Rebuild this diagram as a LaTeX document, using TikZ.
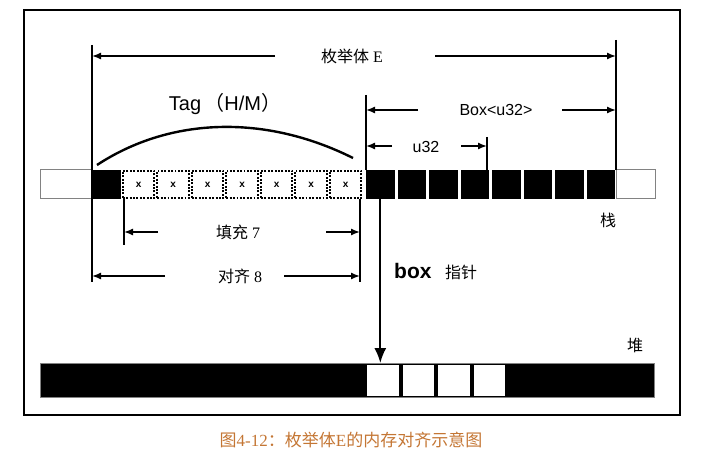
\documentclass[tikz,border=0pt]{standalone}
\usepackage{fontspec}
\setmainfont{Liberation Serif}
\setsansfont{Liberation Sans}
\newfontfamily\cjk{Noto Sans CJK SC}
\usetikzlibrary{arrows.meta}
\definecolor{capcol}{RGB}{196,118,52}
\definecolor{edgegray}{RGB}{130,130,130}
\begin{document}
\begin{tikzpicture}[x=1pt,y=-1pt,
  dimarrow/.style={line width=1.4pt,-{Latex[length=9pt,width=7pt]}},
  extline/.style={line width=1.3pt},
  ptrarrow/.style={line width=1.8pt,-{Latex[length=15pt,width=12pt]}},
  cell/.style={minimum height=29pt,inner sep=0pt,outer sep=0pt,anchor=west},
  whitecell/.style={cell,draw=edgegray,line width=1pt,fill=white},
  blackcell/.style={cell,fill=black,minimum width=28.6pt},
  padcell/.style={cell,draw=black,line width=2pt,dash pattern=on 1.9pt off 1.5pt,minimum width=31.5pt,minimum height=27.5pt,font=\sffamily\bfseries\fontsize{10}{10}\selectfont},
  heapcell/.style={inner sep=0pt,outer sep=0pt,anchor=north west,fill=white,minimum width=31.5pt,minimum height=31pt},
  txt/.style={inner sep=0pt,font=\fontsize{16}{16}\selectfont},
  sanstxt/.style={inner sep=0pt,font=\sffamily\fontsize{16}{16}\selectfont}
]
\useasboundingbox (0,0) rectangle (701,457);
\node[draw,line width=2.2pt,minimum width=656pt,minimum height=405pt,inner sep=0pt,anchor=north west] (frame) at (23,9) {};

% stack row
\node[whitecell,minimum width=52pt] (sl) at (40,184.5) {};
\node[blackcell,minimum width=29pt] (b0) at (92,184.5) {};
\foreach \i in {0,...,6}{
  \node[padcell] (p\i) at ({122.8+\i*34.5},184.5) {x};
}
\foreach \i in {1,...,8}{
  \node[blackcell] (b\i) at ({366+(\i-1)*31.55},184.5) {};
}
\node[whitecell,minimum width=39pt] (sr) at (616,184.5) {};

% heap row
\node[fill=black,draw=edgegray,line width=0.8pt,minimum width=614pt,minimum height=34pt,inner sep=0pt,outer sep=0pt,anchor=north west] (heap) at (40,363) {};
\foreach \i in {1,...,4}{
  \node[heapcell] (h\i) at ({367+(\i-1)*35.6},364.5) {};
}

% extension lines
\coordinate (LT) at (92,45);   \coordinate (LB) at (92,282);
\coordinate (RT) at (616,40);  \coordinate (RB) at (616,170);
\coordinate (BT) at (366,95);  \coordinate (BB) at (366,170);
\coordinate (UT) at (487,137); \coordinate (UB) at (487,170);
\coordinate (FT) at (124,199); \coordinate (FB) at (124,245);
\coordinate (AT) at (360,199); \coordinate (AB) at (360,282);
\draw[extline] (LT) -- (LB);
\draw[extline] (RT) -- (RB);
\draw[extline] (BT) -- (BB);
\draw[extline] (UT) -- (UB);
\draw[extline] (FT) -- (FB);
\draw[extline] (AT) -- (AB);

% labels
\node[txt] (lE) at (352,56) {{\cjk 枚举体}\ E};
\node[sanstxt] (lBox) at (496,110) {Box<u32>};
\node[sanstxt] (lu) at (426,147) {u32};
\node[txt] (lF) at (238,232) {{\cjk 填充}\ 7};
\node[txt] (lA) at (240,276) {{\cjk 对齐}\ 8};
\node[inner sep=0pt,font=\sffamily\fontsize{20}{20}\selectfont] (lTag) at (225,104) {Tag\,{\cjk （}H/M{\cjk ）}};
\node[inner sep=0pt,anchor=west,font=\sffamily\bfseries\fontsize{21}{21}\selectfont] (lbox) at (394,271) {box};
\node[txt,anchor=west] (lptr) at (445,272) {\cjk 指针};
\node[txt] (lstack) at (608,220) {\cjk 栈};
\node[txt] (lheap) at (635,345) {\cjk 堆};
\node[inner sep=0pt,text=capcol,font=\fontsize{17}{17}\selectfont] (cap) at (351,440) {{\cjk 图}4-12{\cjk ：枚举体}E{\cjk 的内存对齐示意图}};

% dimension arrows
\coordinate (e1) at (275,56);  \coordinate (e2) at (435,56);
\draw[dimarrow] (e1) -- (LT |- e1);
\draw[dimarrow] (e2) -- (RT |- e2);
\coordinate (x1) at (418,110); \coordinate (x2) at (562,110);
\draw[dimarrow] (x1) -- (BT |- x1);
\draw[dimarrow] (x2) -- (RT |- x2);
\coordinate (u1) at (392,146); \coordinate (u2) at (461,146);
\draw[dimarrow] (u1) -- (BT |- u1);
\draw[dimarrow] (u2) -- (UT |- u2);
\coordinate (f1) at (158,232); \coordinate (f2) at (326,232);
\draw[dimarrow] (f1) -- (FT |- f1);
\draw[dimarrow] (f2) -- (AT |- f2);
\coordinate (a1) at (165,276); \coordinate (a2) at (284,276);
\draw[dimarrow] (a1) -- (LT |- a1);
\draw[dimarrow] (a2) -- (AT |- a2);

% tag arc
\coordinate (arcL) at (97,165); \coordinate (arcR) at (353,158);
\draw[line width=2.4pt] (arcL) .. controls (170,117) and (265,114) .. (arcR);

% pointer
\draw[ptrarrow] (b1.south) -- (b1.south |- heap.north);
\end{tikzpicture}
\end{document}
